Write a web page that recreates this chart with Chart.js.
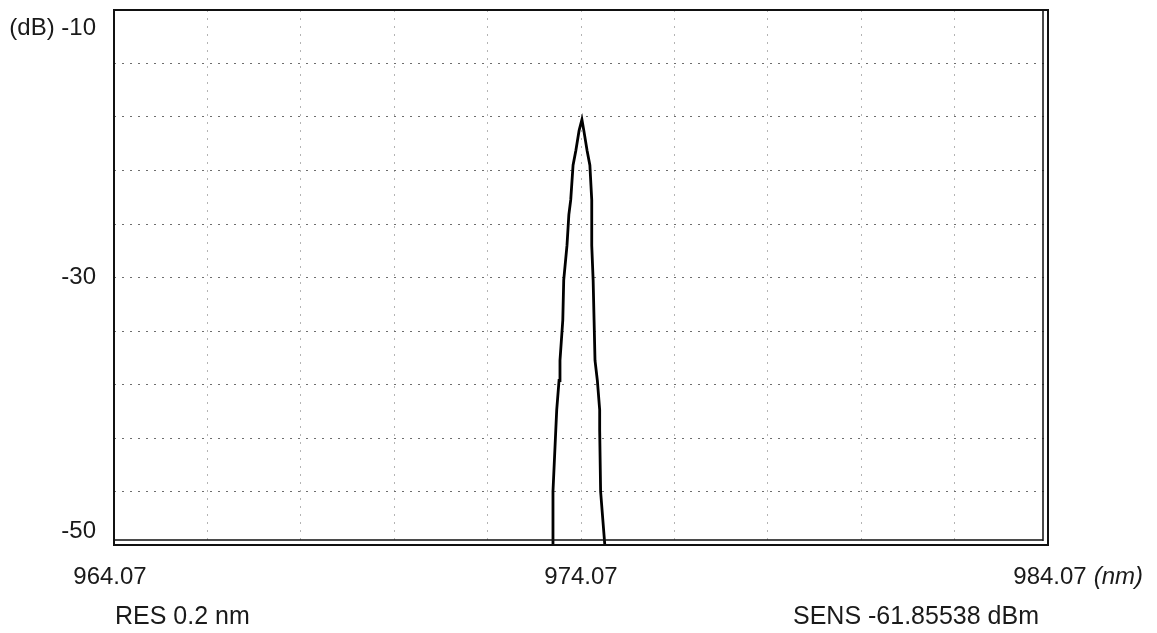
<!DOCTYPE html>
<html>
<head>
<meta charset="utf-8">
<script src="https://cdn.jsdelivr.net/npm/chart.js@4/dist/chart.umd.min.js"></script>
<style>
  html, body { margin: 0; padding: 0; background: #fff; }
  #wrap { width: 1157px; height: 633px; position: relative; }
</style>
</head>
<body>
<div id="wrap"><canvas id="osa"></canvas></div>
<script>
// spectrum trace (nm, dB)
const wavelength = [973.45, 973.47, 973.53, 973.55, 973.60, 973.62, 973.68, 973.70, 973.77, 973.81, 973.85, 973.90, 973.96, 974.03, 974.09,
                    974.13, 974.20, 974.26, 974.30, 974.30, 974.33, 974.35, 974.37, 974.42, 974.47, 974.47, 974.49, 974.58];
const level = [-50, -46.0, -41.4, -39.9, -37.7, -36.2, -33.2, -30.2, -27.6, -25.3, -24.2, -21.6, -20.5, -19.0, -18.2,
               -19.0, -20.5, -21.6, -24.2, -27.6, -30.2, -33.2, -36.2, -37.7, -39.9, -41.4, -46.0, -50];

// grid divisions
const xGrid = [964.07, 966.07, 968.07, 970.07, 972.07, 974.07, 976.07, 978.07, 980.07, 982.07, 984.07];
const yGrid = [-50, -46, -42, -38, -34, -30, -26, -22, -18, -14, -10];

// tick labels
const xLabelValues = [964.07, 974.07, 984.07];
const xLabelText = ['964.07', '974.07', '984.07'];
const yLabelValues = [-10, -30, -50];
const yLabelText = ['(dB) -10', '-30', '-50'];
const footerLeft = 'RES 0.2 nm';
const footerRight = 'SENS -61.85538 dBm';

const FONT = '"Liberation Sans", Arial, sans-serif';

const points = wavelength.map((w, i) => ({ x: w, y: level[i] }));

// frame + text drawn on top of the chart area
const osaDecor = {
  id: 'osaDecor',
  afterDraw(chart) {
    const { ctx, chartArea: a, scales: { x, y } } = chart;
    ctx.save();
    // frame (double line on right and bottom like the instrument screen)
    ctx.strokeStyle = '#111';
    ctx.lineWidth = 2;
    ctx.strokeRect(a.left, a.top, a.right - a.left, a.bottom - a.top);
    ctx.lineWidth = 1.5;
    ctx.beginPath();
    ctx.moveTo(a.right - 5, a.top + 1); ctx.lineTo(a.right - 5, a.bottom - 4);
    ctx.moveTo(a.left + 1, a.bottom - 5); ctx.lineTo(a.right - 5, a.bottom - 5);
    ctx.stroke();

    ctx.fillStyle = '#1a1a1a';
    ctx.font = '24px ' + FONT;
    ctx.textBaseline = 'middle';

    // y labels
    ctx.textAlign = 'right';
    yLabelValues.forEach((v, i) => {
      let py = y.getPixelForValue(v);
      if (i === 0) py += 18;
      if (i === yLabelValues.length - 1) py -= 14;
      ctx.fillText(yLabelText[i], 96, py);
    });

    // x labels
    ctx.textAlign = 'center';
    xLabelValues.forEach((v, i) => {
      const px = x.getPixelForValue(v) - (i === 0 ? 4 : 0) + (i === 2 ? 2 : 0);
      ctx.fillText(xLabelText[i], px, 577);
      if (i === xLabelValues.length - 1) {
        const w = ctx.measureText(xLabelText[i]).width;
        ctx.textAlign = 'left';
        ctx.font = 'italic 24px ' + FONT;
        ctx.fillText('(nm)', px + w / 2 + 7, 577);
        ctx.font = '24px ' + FONT;
        ctx.textAlign = 'center';
      }
    });

    // footer
    ctx.font = '25px ' + FONT;
    ctx.textAlign = 'left';
    ctx.fillText(footerLeft, 115, 617);
    ctx.fillText(footerRight, 793, 617);
    ctx.restore();
  }
};

new Chart(document.getElementById('osa'), {
  type: 'line',
  data: {
    datasets: [{
      data: points,
      borderColor: '#000',
      borderWidth: 2.8,
      pointRadius: 0,
      tension: 0,
      fill: false
    }]
  },
  options: {
    responsive: true,
    maintainAspectRatio: false,
    animation: false,
    layout: { padding: { left: 114, right: 109, top: 10, bottom: 88 } },
    plugins: { legend: { display: false }, tooltip: { enabled: false } },
    scales: {
      x: {
        type: 'linear',
        min: 964.07,
        max: 984.07,
        afterBuildTicks: s => { s.ticks = xGrid.map(v => ({ value: v })); },
        ticks: { display: false },
        grid: { color: '#b4b4b4', lineWidth: 1, drawTicks: false, tickLength: 0 },
        border: { display: false, dash: [2, 6] }
      },
      y: {
        type: 'linear',
        min: -50,
        max: -10,
        afterBuildTicks: s => { s.ticks = yGrid.map(v => ({ value: v })); },
        ticks: { display: false },
        grid: { color: '#6e6e6e', lineWidth: 1, drawTicks: false, tickLength: 0 },
        border: { display: false, dash: [2, 6] }
      }
    }
  },
  plugins: [osaDecor]
});
</script>
</body>
</html>
